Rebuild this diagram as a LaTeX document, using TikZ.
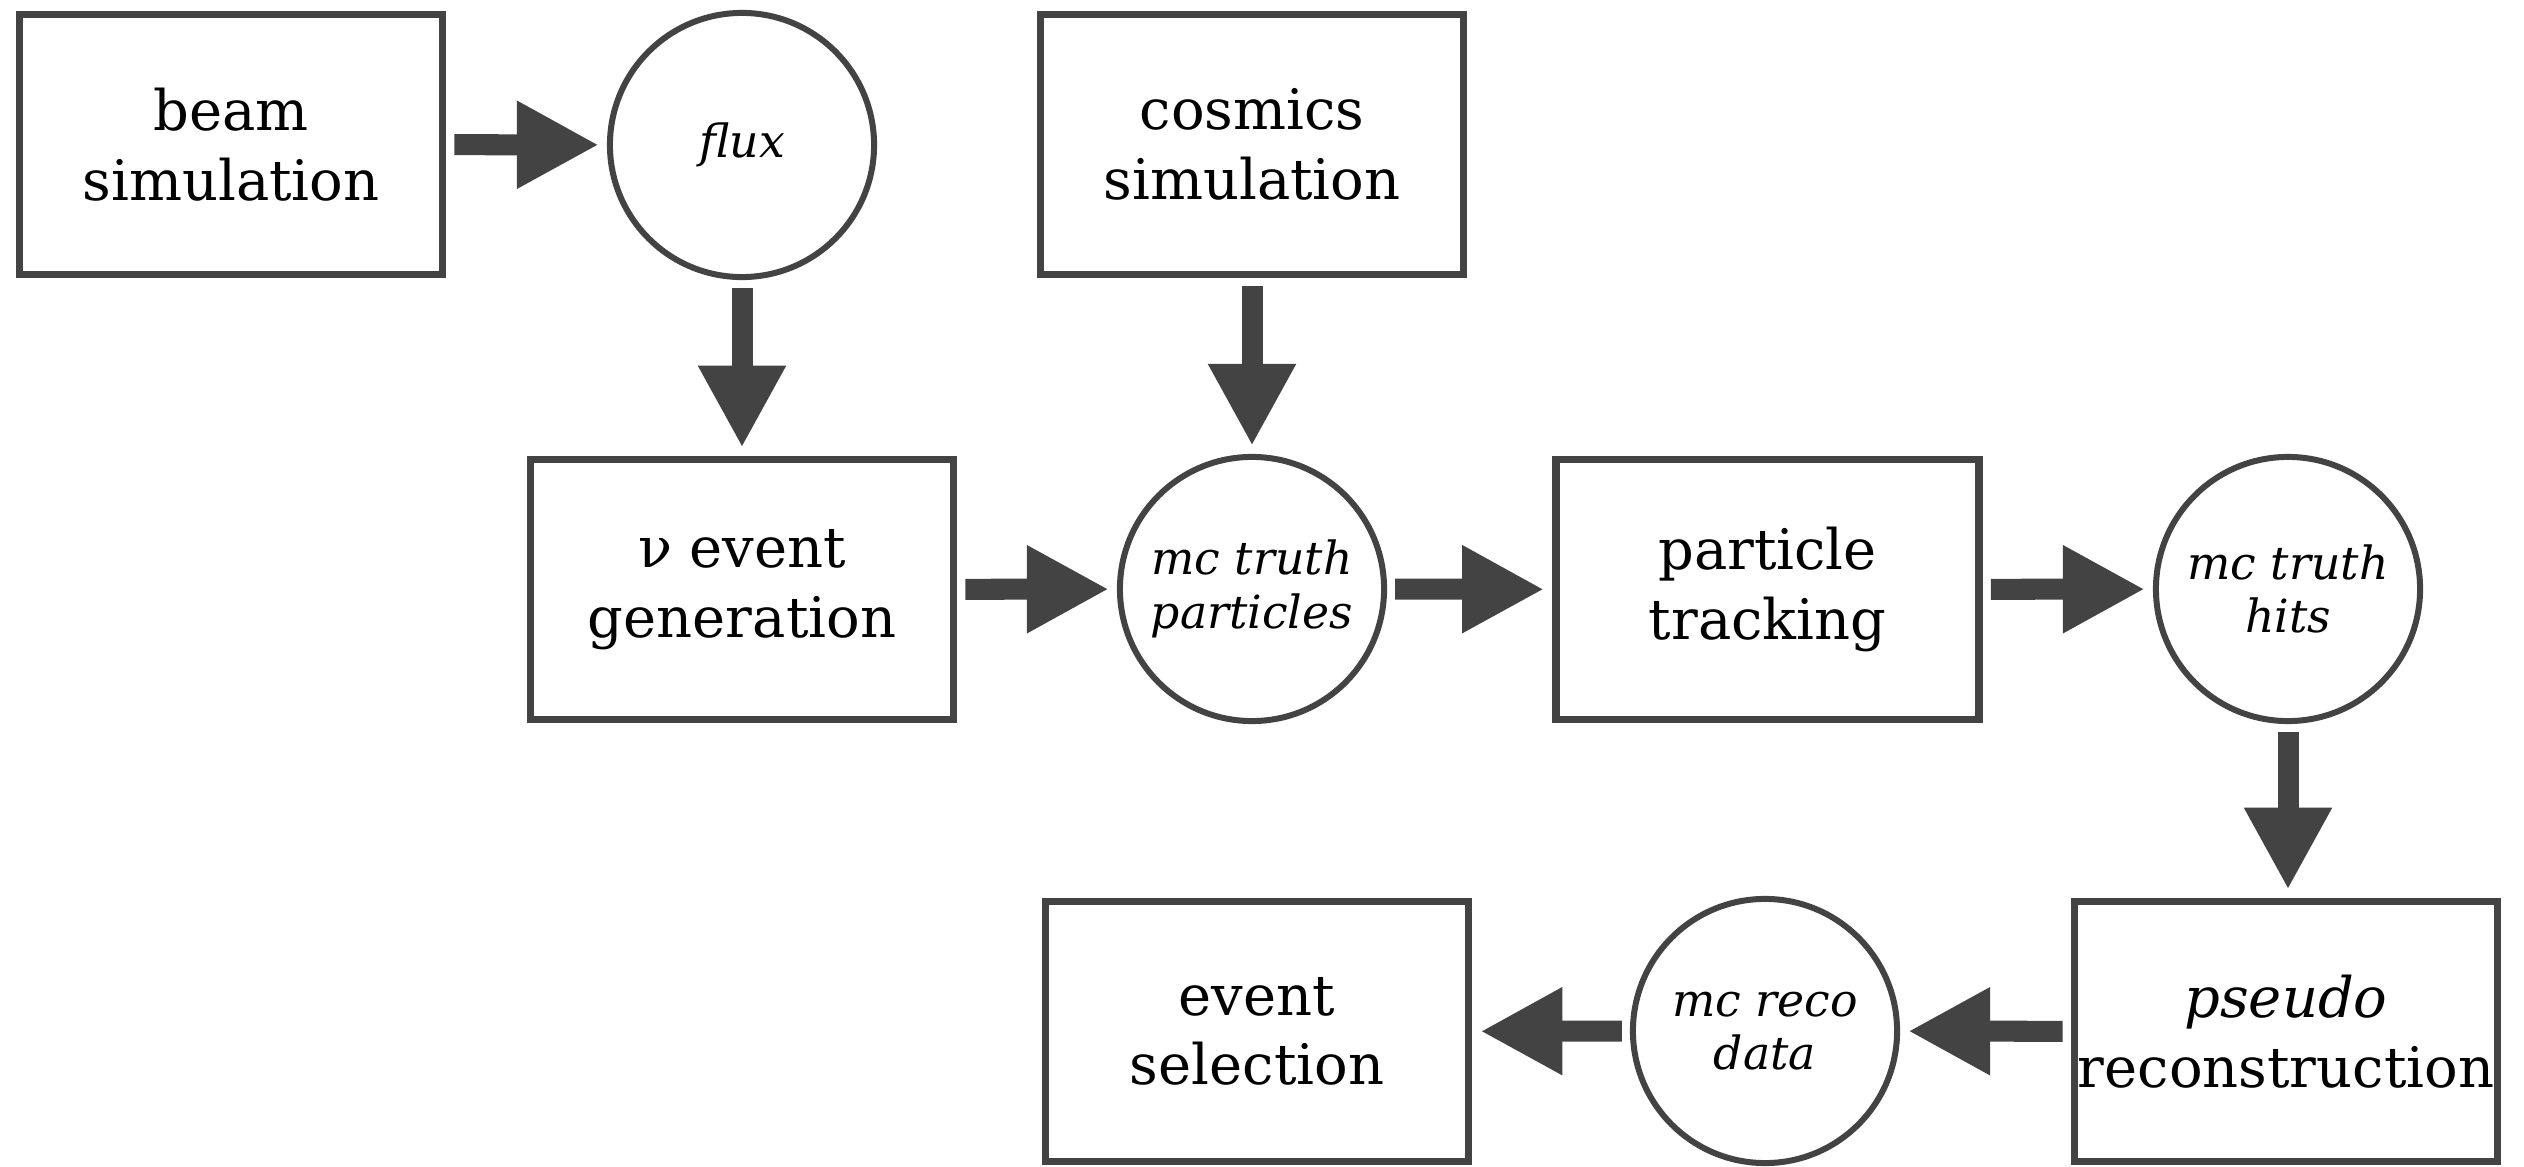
\documentclass[tikz,border=0pt]{standalone}
\usepackage{fontspec}
\setmainfont{DejaVu Serif}
\usetikzlibrary{arrows.meta}
\definecolor{ink}{HTML}{434343}
\begin{document}
\begin{tikzpicture}[x=0.01cm, y=-0.01cm,
  procbox/.style={draw=ink, line width=0.075cm, minimum width=4.23cm,
    minimum height=2.6cm, align=center, inner sep=0pt,
    font=\fontsize{15.9pt}{19.8pt}\selectfont},
  datanode/.style={circle, draw=ink, line width=0.06cm, minimum size=2.64cm,
    align=center, inner sep=0pt, font=\fontsize{13pt}{15.2pt}\selectfont\itshape},
  flow/.style={draw=ink, line width=0.21cm,
    -{Triangle[length=0.82cm, width=0.82cm]},
    shorten >=0.08cm, shorten <=0.08cm}]
\fill[white] (0,0) rectangle (2524,1167);
\useasboundingbox (0,0) rectangle (2524,1167);

% processing stages
\node[procbox] (beam)     at (231,144.5)   {beam\\simulation};
\node[procbox] (cosmics)  at (1252,144.5)  {cosmics\\simulation};
\node[procbox] (gen)      at (742,589.5)   {ν event\\generation};
\node[procbox] (tracking) at (1767.5,589.5){particle\\tracking};
\node[procbox] (pseudo)   at (2286,1031.5) {\textit{pseudo}\\reconstruction};
\node[procbox] (select)   at (1257,1031.5) {event\\selection};

% data products
\node[datanode] (flux)  at (742,145)   {flux};
\node[datanode] (mctp)  at (1252,589)  {mc truth\\particles};
\node[datanode] (hits)  at (2288,589)  {mc truth\\hits};
\node[datanode] (reco)  at (1765,1031) {mc reco\\data};

% flow of the chain
\draw[flow] (beam) -- (flux);
\draw[flow] (flux) -- (gen);
\draw[flow] (cosmics) -- (mctp);
\draw[flow] (gen) -- (mctp);
\draw[flow] (mctp) -- (tracking);
\draw[flow] (tracking) -- (hits);
\draw[flow] (hits.south) -- (hits.south |- pseudo.north);
\draw[flow] (pseudo) -- (reco);
\draw[flow] (reco) -- (select);
\end{tikzpicture}
\end{document}
